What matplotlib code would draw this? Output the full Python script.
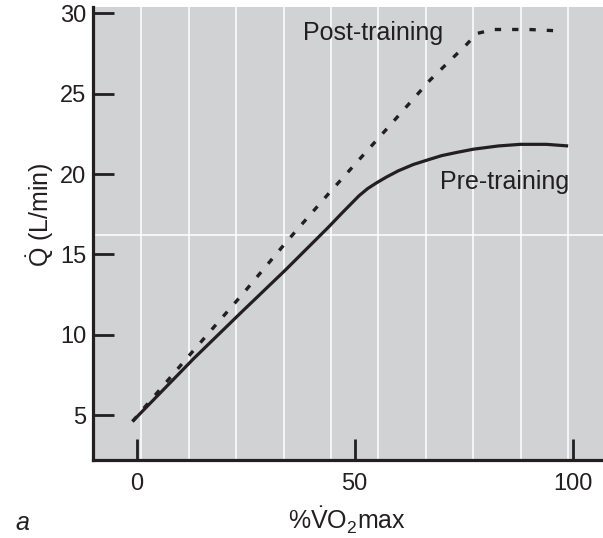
import numpy as np
import matplotlib
matplotlib.use("Agg")
import matplotlib.pyplot as plt

plt.rcParams['font.family'] = ['Liberation Sans', 'DejaVu Sans']
plt.rcParams['mathtext.fontset'] = 'custom'
plt.rcParams['mathtext.rm'] = 'Liberation Sans'
plt.rcParams['mathtext.it'] = 'Liberation Sans:italic'
plt.rcParams['mathtext.bf'] = 'Liberation Sans:bold'

# --- data (x = %VO2max, y = cardiac output L/min) ---
pre_x = [-1, 13, 24, 34, 44, 47, 49, 51, 53, 55, 57.2, 60, 63.5, 67, 70, 73.5, 77.3, 83, 88, 94, 99]
pre_y = [4.6, 8.5, 11.4, 14.0, 16.7, 17.55, 18.1, 18.65, 19.1, 19.45, 19.8, 20.2, 20.6, 20.9, 21.15, 21.35, 21.55, 21.75, 21.85, 21.85, 21.75]

post_x = [-1, 12, 24.5, 34.4, 44.4, 57, 67.3, 75.8, 78, 82, 90, 98]
post_y = [4.6, 8.7, 12.6, 15.8, 18.9, 22.7, 25.85, 28.1, 28.75, 29.0, 29.0, 28.9]

x_ticks = [0, 50, 100]
y_ticks = [5, 10, 15, 20, 25, 30]

ink = '#231f20'
bg = '#d1d2d4'

fig = plt.figure(figsize=(6.03, 5.38), dpi=100)
W, H = 603, 538
ax = fig.add_axes([93.3 / W, 1 - 460.3 / H, 1 - 93.3 / W, (460.3 - 7) / H])
ax.set_facecolor(bg)
ax.set_xlim(-10, 107)
ax.set_ylim(2.18, 30.4)

# white guide lines
for gx in np.linspace(1, 99, 10):
    ax.axvline(gx, color='white', lw=1.1, zorder=1)
ax.axhline(16.2, color='white', lw=1.1, zorder=1)

ax.plot(pre_x, pre_y, color=ink, lw=2.3, solid_capstyle='butt', zorder=3)
ax.plot(post_x, post_y, color=ink, lw=2.4, linestyle=(0, (1.9, 3.3)), zorder=3)

ax.text(38.2, 28.8, 'Post-training', fontsize=18, color=ink, ha='left', va='center')
ax.text(69.5, 19.5, 'Pre-training', fontsize=18, color=ink, ha='left', va='center')

for s in ['top', 'right']:
    ax.spines[s].set_visible(False)
for s in ['left', 'bottom']:
    ax.spines[s].set_color(ink)
    ax.spines[s].set_linewidth(2.3)

ax.set_xticks(x_ticks)
ax.set_yticks(y_ticks)
ax.tick_params(direction='in', length=15, width=2.0, colors=ink, labelsize=17)
ax.tick_params(axis='x', pad=9)
ax.tick_params(axis='y', pad=5)

fig.text(347 / W, 1 - 520 / H, '%$\\dot{\\mathrm{V}}\\mathrm{O}_2$max', fontsize=18,
         color=ink, ha='center', va='center')
fig.text(40 / W, 1 - 215 / H, '$\\dot{\\mathrm{Q}}$ (L/min)', fontsize=18,
         color=ink, ha='center', va='center', rotation=90)
fig.text(22 / W, 1 - 523 / H, 'a', fontsize=18, style='italic', color=ink,
         ha='center', va='center')

fig.savefig('out.png', dpi=100)
